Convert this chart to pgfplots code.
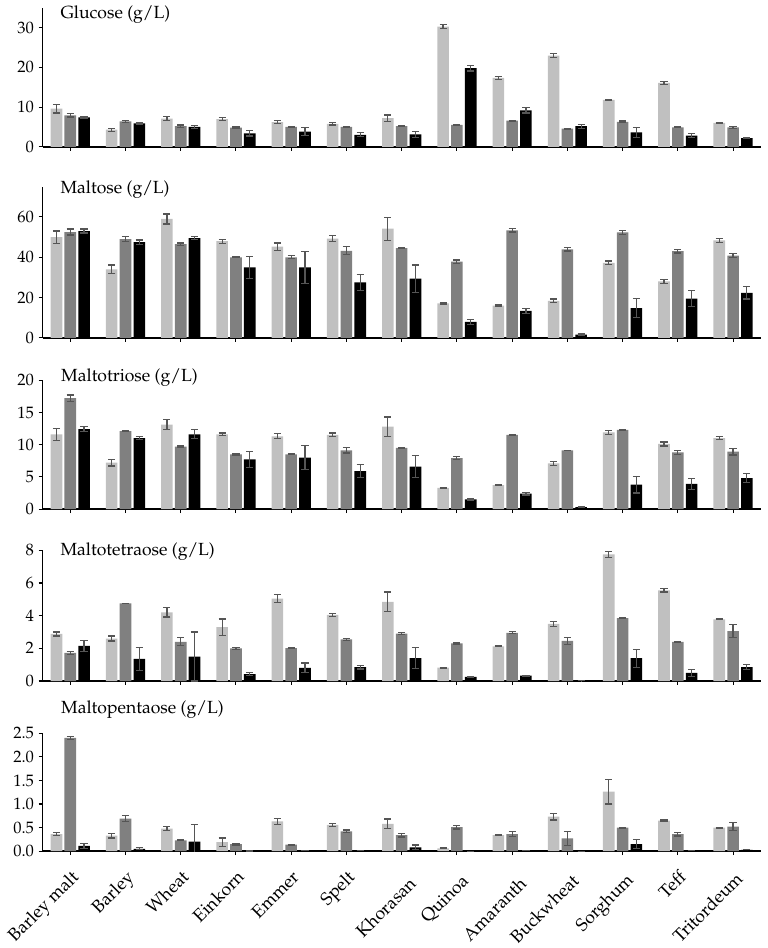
\documentclass[border=0pt]{standalone}
\usepackage[T1]{fontenc}
\usepackage{mathpazo}
\usepackage{pgfplots}
\usepackage{pgfplotstable}
\pgfplotsset{compat=1.18}

\definecolor{c1}{RGB}{192,192,192}
\definecolor{c2}{RGB}{128,128,128}
\definecolor{c3}{RGB}{0,0,0}
\definecolor{errc}{RGB}{85,85,85}

% columns: light, dark, black bars with their errors
\pgfplotstableread{
x a ae b be c ce
0 9.6 1.1 7.9 0.4 7.4 0.2
1 4.3 0.4 6.4 0.2 5.9 0.3
2 7.1 0.5 5.2 0.3 5.0 0.3
3 7.0 0.3 4.8 0.2 3.4 0.7
4 6.2 0.4 5.0 0.2 3.8 1.0
5 5.8 0.3 5.0 0.2 3.0 0.5
6 7.2 0.8 5.2 0.1 3.1 0.8
7 30.3 0.5 5.5 0.2 19.8 0.7
8 17.4 0.4 6.6 0.1 9.2 0.7
9 23.0 0.5 4.6 0.1 5.2 0.5
10 11.8 0.2 6.3 0.2 3.6 1.2
11 16.1 0.3 4.9 0.1 2.8 0.5
12 6.0 0.1 4.9 0.3 2.2 0.2
}\glucose

\pgfplotstableread{
x a ae b be c ce
0 50.0 3.0 52.5 1.5 53.0 1.0
1 34.0 2.2 49.0 1.3 47.5 1.1
2 59.0 2.5 46.5 0.6 49.5 0.8
3 48.0 1.0 40.0 0.3 35.0 5.5
4 45.3 1.8 40.0 0.7 35.0 8.0
5 49.2 1.5 43.2 2.0 27.5 4.0
6 54.2 5.7 44.5 0.3 29.4 6.8
7 17.1 0.3 37.8 0.8 7.9 1.2
8 16.0 0.3 53.3 0.8 13.4 1.3
9 18.4 0.9 43.9 0.8 1.6 0.3
10 37.2 0.9 52.4 1.0 14.8 4.7
11 28.0 0.9 43.0 0.9 19.5 4.0
12 48.4 0.9 40.8 1.0 22.3 3.0
}\maltose

\pgfplotstableread{
x a ae b be c ce
0 11.6 0.9 17.2 0.5 12.4 0.4
1 7.2 0.5 12.1 0.1 11.0 0.2
2 13.1 0.8 9.7 0.1 11.6 0.7
3 11.6 0.2 8.5 0.1 7.7 1.2
4 11.3 0.4 8.5 0.05 8.0 1.9
5 11.5 0.3 9.1 0.4 5.9 1.0
6 12.8 1.5 9.5 0.05 6.6 1.7
7 3.3 0.05 7.9 0.2 1.5 0.2
8 3.7 0.05 11.5 0.1 2.4 0.2
9 7.1 0.3 9.1 0.05 0.3 0.05
10 11.9 0.3 12.3 0.1 3.8 1.3
11 10.1 0.3 8.8 0.3 3.9 0.9
12 11.0 0.2 8.9 0.5 4.8 0.7
}\triose

\pgfplotstableread{
x a ae b be c ce
0 2.88 0.12 1.72 0.1 2.15 0.35
1 2.6 0.15 4.75 0.02 1.35 0.7
2 4.2 0.28 2.4 0.25 1.5 1.5
3 3.3 0.5 2.0 0.05 0.42 0.1
4 5.05 0.25 2.02 0.03 0.8 0.3
5 4.05 0.1 2.55 0.05 0.85 0.12
6 4.85 0.6 2.9 0.05 1.4 0.65
7 0.82 0.02 2.3 0.03 0.25 0.03
8 2.12 0.03 2.95 0.06 0.33 0.03
9 3.5 0.15 2.45 0.22 0.03 0.01
10 7.75 0.2 3.85 0.02 1.4 0.55
11 5.55 0.1 2.4 0.03 0.5 0.2
12 3.78 0.03 3.05 0.4 0.85 0.15
}\tetraose

\pgfplotstableread{
x a ae b be c ce
0 0.36 0.03 2.40 0.03 0.11 0.05
1 0.33 0.05 0.69 0.06 0.05 0.02
2 0.48 0.04 0.23 0.01 0.20 0.36
3 0.19 0.09 0.15 0.02 0.005 0.0
4 0.63 0.06 0.14 0.01 0.01 0.0
5 0.56 0.03 0.42 0.03 0.02 0.0
6 0.58 0.10 0.34 0.04 0.08 0.05
7 0.06 0.01 0.51 0.04 0.0 0.0
8 0.34 0.01 0.36 0.05 0.01 0.0
9 0.73 0.07 0.27 0.15 0.0 0.0
10 1.26 0.26 0.50 0.01 0.15 0.10
11 0.65 0.01 0.36 0.04 0.02 0.0
12 0.50 0.01 0.52 0.08 0.03 0.0
}\pentaose

\pgfplotsset{
  panel/.style={
    scale only axis, width=543pt,
    xmin=-0.5, xmax=12.5, ymin=0,
    axis x line=bottom, axis y line=left,
    axis line style={-, line width=1.1pt, black},
    xtick={0,...,12}, xticklabels={},
    tick align=outside, major tick length=3pt,
    tick style={line width=0.8pt, black},
    ybar, bar width=0.21,
    clip mode=individual,
    y tick label style={font=\fontsize{12.5}{14}\selectfont},
  },
  errs/.style={draw=none, error bars/.cd, y dir=both, y explicit,
    error bar style={draw=errc, line width=0.9pt},
    error mark options={rotate=90, mark size=2.7pt, draw=errc, line width=0.9pt}},
}
\tikzset{ttl/.style={anchor=west, font=\fontsize{13.3}{16}\selectfont}}
\newcommand\bars[1]{%
  \addplot[fill=c1, bar shift=-0.25, errs] table[x=x, y=a, y error=ae]{#1};
  \addplot[fill=c2, bar shift=0, errs] table[x=x, y=b, y error=be]{#1};
  \addplot[fill=c3, bar shift=0.25, errs] table[x=x, y=c, y error=ce]{#1};
}
% category label pushed further down by #1
\newcommand\lab[2]{\rule{0pt}{\dimexpr 9.5pt+#1\relax}#2\hspace{#1}}

\begin{document}
\begin{tikzpicture}
\path (0,0) rectangle (580.5pt,-711pt);

\begin{axis}[panel, at={(32.25pt,-111pt)}, anchor=south west, height=105pt,
  ymax=35, ytick={0,10,20,30}]
\bars{\glucose}
\node[ttl, xshift=10pt, yshift=-5pt] at (rel axis cs:0,1) {Glucose (g/L)};
\end{axis}

\begin{axis}[panel, at={(32.25pt,-255.5pt)}, anchor=south west, height=114.3pt,
  ymax=75, ytick={0,20,40,60}]
\bars{\maltose}
\node[ttl, xshift=10pt, yshift=-2pt] at (rel axis cs:0,1) {Maltose (g/L)};
\end{axis}

\begin{axis}[panel, at={(32.25pt,-385pt)}, anchor=south west, height=97.5pt,
  ymax=20, ytick={0,5,10,15,20}]
\bars{\triose}
\node[ttl, xshift=10.5pt, yshift=2pt] at (rel axis cs:0,1) {Maltotriose (g/L)};
\end{axis}

\begin{axis}[panel, at={(32.25pt,-515pt)}, anchor=south west, height=98.8pt,
  ymax=8, ytick={0,2,4,6,8}]
\bars{\tetraose}
\node[ttl, xshift=10pt, yshift=-1pt] at (rel axis cs:0,1) {Maltotetraose (g/L)};
\end{axis}

\begin{axis}[panel, at={(32.25pt,-643.7pt)}, anchor=south west, height=89.25pt,
  ymax=2.5, ytick={0,0.5,1,1.5,2,2.5},
  yticklabel style={/pgf/number format/.cd, fixed, fixed zerofill, precision=1},
  xticklabels={Barley malt, Barley, Wheat, Einkorn, Emmer, Spelt,
    \lab{7pt}{Khorasan}, \lab{4pt}{Quinoa}, \lab{7pt}{Amaranth},
    \lab{4pt}{Buckwheat}, \lab{3pt}{Sorghum}, Teff, \lab{2pt}{Tritordeum}},
  xticklabel shift=9pt,
  x tick label style={rotate=45, anchor=north east, inner sep=1pt,
    font=\fontsize{13.5}{15}\selectfont}]
\bars{\pentaose}
\node[ttl, xshift=10.5pt, yshift=18pt] at (rel axis cs:0,1) {Maltopentaose (g/L)};
\end{axis}
\end{tikzpicture}
\end{document}
